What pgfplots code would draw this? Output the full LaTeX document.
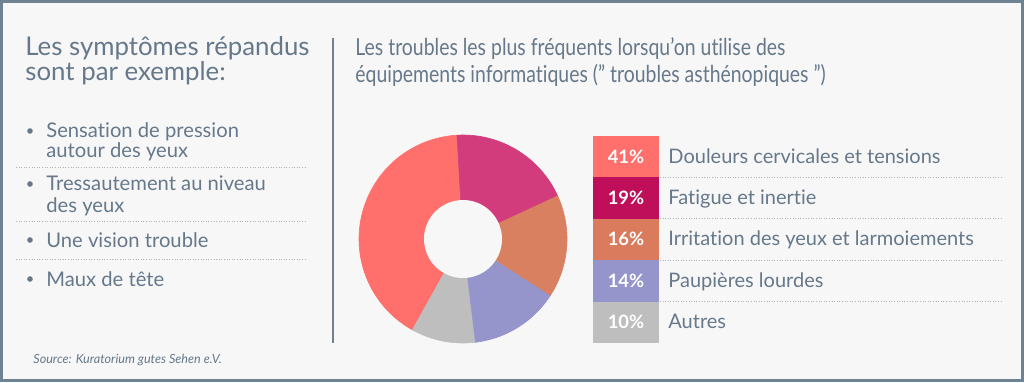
\documentclass[border=0pt]{standalone}
\usepackage{pgfplots}
\pgfplotsset{compat=1.18}
\usepackage{pgfplotstable}
\usepackage{fontspec}
\setmainfont{Lato}[Ligatures={NoCommon}]
\definecolor{bg}{HTML}{F7F7F8}
\definecolor{frame}{HTML}{6F8291}
\definecolor{txt}{HTML}{66788A}
\definecolor{dots}{HTML}{A9B2BA}
\definecolor{pieA}{HTML}{FF6F6B}
\definecolor{pieB}{HTML}{D23C7C}
\definecolor{pieC}{HTML}{D8805F}
\definecolor{pieD}{HTML}{9595CC}
\definecolor{pieE}{HTML}{BEBEBE}
\definecolor{legB}{HTML}{BF0F5B}
\definecolor{legC}{HTML}{D97B5C}

\pgfplotstableread{
label value
Douleurs 41
Fatigue 19
Irritation 16
Paupieres 14
Autres 10
}\piedata

\begin{document}
\begin{tikzpicture}
% frame
\begin{scope}[x=0.5pt,y=-0.5pt]
\fill[bg] (0,0) rectangle (1024,382);
\draw[frame, line width=1.5pt] (1.5,1.5) rectangle (1022.5,380.5);
% left column
\begin{scope}[every node/.style={inner sep=0pt, anchor=base west, text=txt}]
\node at (25,55) {\fontsize{12.9}{14}\selectfont Les symptômes répandus};
\node at (25,80) {\fontsize{12.9}{14}\selectfont sont par exemple:};
\node at (46,137) {\fontsize{10.1}{11}\selectfont Sensation de pression};
\node at (46,157) {\fontsize{10.1}{11}\selectfont autour des yeux};
\node at (46,190) {\fontsize{10.1}{11}\selectfont Tressautement au niveau};
\node at (46,212) {\fontsize{10.1}{11}\selectfont des yeux};
\node at (46,247) {\fontsize{10.1}{11}\selectfont Une vision trouble};
\node at (46,286) {\fontsize{10.1}{11}\selectfont Maux de tête};
\node at (33,363) {\fontsize{6.3}{8}\selectfont\itshape Source: Kuratorium gutes Sehen e.V.};
% right title
\node at (355,55) {\scalebox{0.83}[1]{\fontsize{11.7}{13}\selectfont Les troubles les plus fréquents lorsqu'on utilise des}};
\node at (355,82) {\scalebox{0.83}[1]{\fontsize{11.7}{13}\selectfont équipements informatiques (\symbol{34} troubles asthénopiques \symbol{34})}};
\end{scope}
\foreach \y in {131,184,240,279}{\fill[txt] (30,\y) circle (2.8);}
\foreach \y in {167,221,259}{\draw[dots, line width=0.4pt, dash pattern=on 0.5pt off 0.8pt] (16,\y) -- (307,\y);}
\draw[frame, line width=1pt] (333,38) -- (333,343);
% legend
\fill[pieA] (593,136) rectangle (659,177.4);
\fill[legB] (593,177.4) rectangle (659,218.8);
\fill[legC] (593,218.8) rectangle (659,260.2);
\fill[pieD] (593,260.2) rectangle (659,301.6);
\fill[pieE] (593,301.6) rectangle (659,343);
\foreach \y in {177.4,218.8,260.2,301.6}{\draw[dots, line width=0.4pt, dash pattern=on 0.5pt off 0.8pt] (660,\y) -- (1002,\y);}
\begin{scope}[every node/.style={inner sep=0pt, anchor=base, text=white, font=\fontsize{9.2}{10}\selectfont\bfseries}]
\node at (626,163) {41\%};
\node at (626,204.4) {19\%};
\node at (626,245.8) {16\%};
\node at (626,287.2) {14\%};
\node at (626,328.6) {10\%};
\end{scope}
\begin{scope}[every node/.style={inner sep=0pt, anchor=base west, text=txt, font=\fontsize{10}{11}\selectfont}]
\node at (668,163) {Douleurs cervicales et tensions};
\node at (668,204.4) {Fatigue et inertie};
\node at (668,245.8) {Irritation des yeux et larmoiements};
\node at (668,287.2) {Paupières lourdes};
\node at (668,328.6) {Autres};
\end{scope}
\end{scope}
% donut
\pgfplotstablegetelem{0}{value}\of\piedata \let\vA\pgfplotsretval
\pgfplotstablegetelem{1}{value}\of\piedata \let\vB\pgfplotsretval
\pgfplotstablegetelem{2}{value}\of\piedata \let\vC\pgfplotsretval
\pgfplotstablegetelem{3}{value}\of\piedata \let\vD\pgfplotsretval
\pgfplotstablegetelem{4}{value}\of\piedata \let\vE\pgfplotsretval
\pgfmathsetmacro\aA{93.3}
\pgfmathsetmacro\aB{\aA+3.6*\vA}
\pgfmathsetmacro\aC{\aB+3.6*\vE}
\pgfmathsetmacro\aD{\aC+3.6*\vD}
\pgfmathsetmacro\aE{\aD+3.6*\vC}
\pgfmathsetmacro\aF{\aE+3.6*\vB}
\begin{axis}[at={(231.5pt,-119.5pt)}, anchor=center, scale only axis,
  width=114.4pt, height=114.4pt, xmin=-1.1, xmax=1.1, ymin=-1.1, ymax=1.1,
  hide axis, clip=false]
\addplot[fill=pieA, draw=pieA, line width=0.3pt, domain=\aA:\aB, samples=80, variable=\t] ({cos(\t)},{sin(\t)}) -- (axis cs:0,0) -- cycle;
\addplot[fill=pieE, draw=pieE, line width=0.3pt, domain=\aB:\aC, samples=30, variable=\t] ({cos(\t)},{sin(\t)}) -- (axis cs:0,0) -- cycle;
\addplot[fill=pieD, draw=pieD, line width=0.3pt, domain=\aC:\aD, samples=30, variable=\t] ({cos(\t)},{sin(\t)}) -- (axis cs:0,0) -- cycle;
\addplot[fill=pieC, draw=pieC, line width=0.3pt, domain=\aD:\aE, samples=30, variable=\t] ({cos(\t)},{sin(\t)}) -- (axis cs:0,0) -- cycle;
\addplot[fill=pieB, draw=pieB, line width=0.3pt, domain=\aE:\aF, samples=40, variable=\t] ({cos(\t)},{sin(\t)}) -- (axis cs:0,0) -- cycle;
\addplot[fill=bg, draw=none, domain=0:360, samples=90, variable=\t] ({0.375*cos(\t)},{0.375*sin(\t)}) -- cycle;
\end{axis}
\end{tikzpicture}
\end{document}
